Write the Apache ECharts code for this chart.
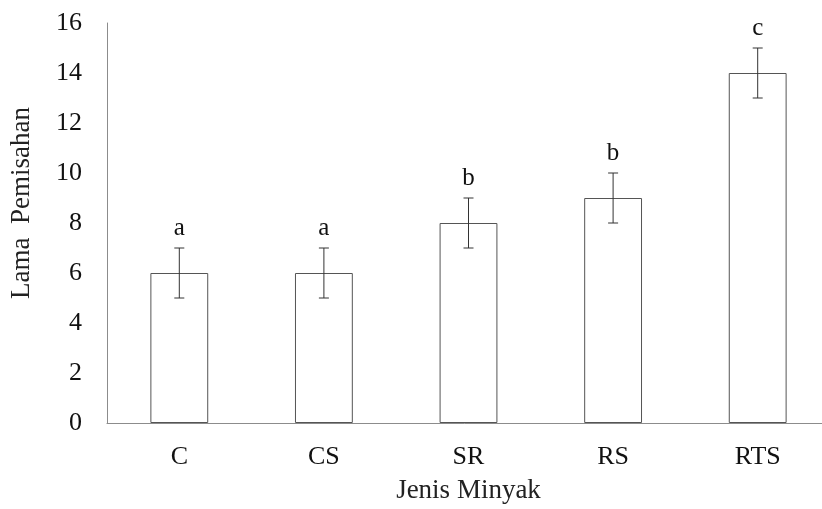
<!DOCTYPE html>
<html>
<head>
<meta charset="utf-8">
<script src="https://cdn.jsdelivr.net/npm/echarts@6/dist/echarts.min.js"></script>
<style>
  html, body { margin: 0; padding: 0; background: #fff; }
  #chart { width: 822px; height: 509px; }
</style>
</head>
<body>
<div id="chart"></div>
<script>
// data
var categories = ['C', 'CS', 'SR', 'RS', 'RTS'];
var values = [6, 6, 8, 9, 14];
var errors = [1, 1, 1, 1, 1];
var letters = ['a', 'a', 'b', 'b', 'c'];
var yTicks = [0, 2, 4, 6, 8, 10, 12, 14, 16];

var serif = '"Liberation Serif", "DejaVu Serif", serif';

let myChart = echarts.init(document.getElementById('chart'));

// error bar rows: [index, low, high, letter]
let errData = values.map(function (v, i) {
  return [i, v - errors[i], v + errors[i], letters[i]];
});

let option = {
  animation: false,
  grid: {
    left: 107,
    top: 23,
    bottom: 86,
    right: -8,
    outerBoundsMode: 'none',
    containLabel: false
  },
  xAxis: {
    type: 'category',
    data: categories,
    name: 'Jenis Minyak',
    nameLocation: 'middle',
    nameGap: 54,
    nameTextStyle: { fontFamily: serif, fontSize: 27, color: '#222' },
    axisLine: { lineStyle: { color: '#8c8c8c', width: 1 } },
    axisTick: { show: false },
    axisLabel: { fontFamily: serif, fontSize: 26, color: '#111', margin: 21 }
  },
  yAxis: {
    type: 'value',
    min: yTicks[0],
    max: yTicks[yTicks.length - 1],
    interval: 2,
    name: 'Lama  Pemisahan',
    nameLocation: 'middle',
    nameGap: 72,
    nameTextStyle: { fontFamily: serif, fontSize: 27, color: '#222', padding: [0, 0, 0, 40] },
    axisLine: { show: true, lineStyle: { color: '#8c8c8c', width: 1 } },
    axisTick: { show: false },
    splitLine: { show: false },
    axisLabel: { fontFamily: serif, fontSize: 26, color: '#111', margin: 25 }
  },
  series: [{
    type: 'bar',
    data: values,
    barWidth: '40%',
    itemStyle: { color: '#fff', borderColor: '#555', borderWidth: 1 }
  }, {
    type: 'custom',
    data: errData,
    z: 10,
    renderItem: function (params, api) {
      let x = api.value(0);
      let lo = api.coord([x, api.value(1)]);
      let hi = api.coord([x, api.value(2)]);
      let cap = 5;
      let style = { stroke: '#333', lineWidth: 1 };
      return {
        type: 'group',
        children: [
          { type: 'line', shape: { x1: hi[0], y1: hi[1], x2: lo[0], y2: lo[1] }, style: style },
          { type: 'line', shape: { x1: hi[0] - cap, y1: hi[1], x2: hi[0] + cap, y2: hi[1] }, style: style },
          { type: 'line', shape: { x1: lo[0] - cap, y1: lo[1], x2: lo[0] + cap, y2: lo[1] }, style: style },
          {
            type: 'text',
            style: {
              x: hi[0], y: hi[1] - 7,
              text: api.value(3),
              fontFamily: serif, fontSize: 25, fill: '#111',
              align: 'center', verticalAlign: 'bottom'
            }
          }
        ]
      };
    }
  }]
};

myChart.setOption(option);
</script>
</body>
</html>
